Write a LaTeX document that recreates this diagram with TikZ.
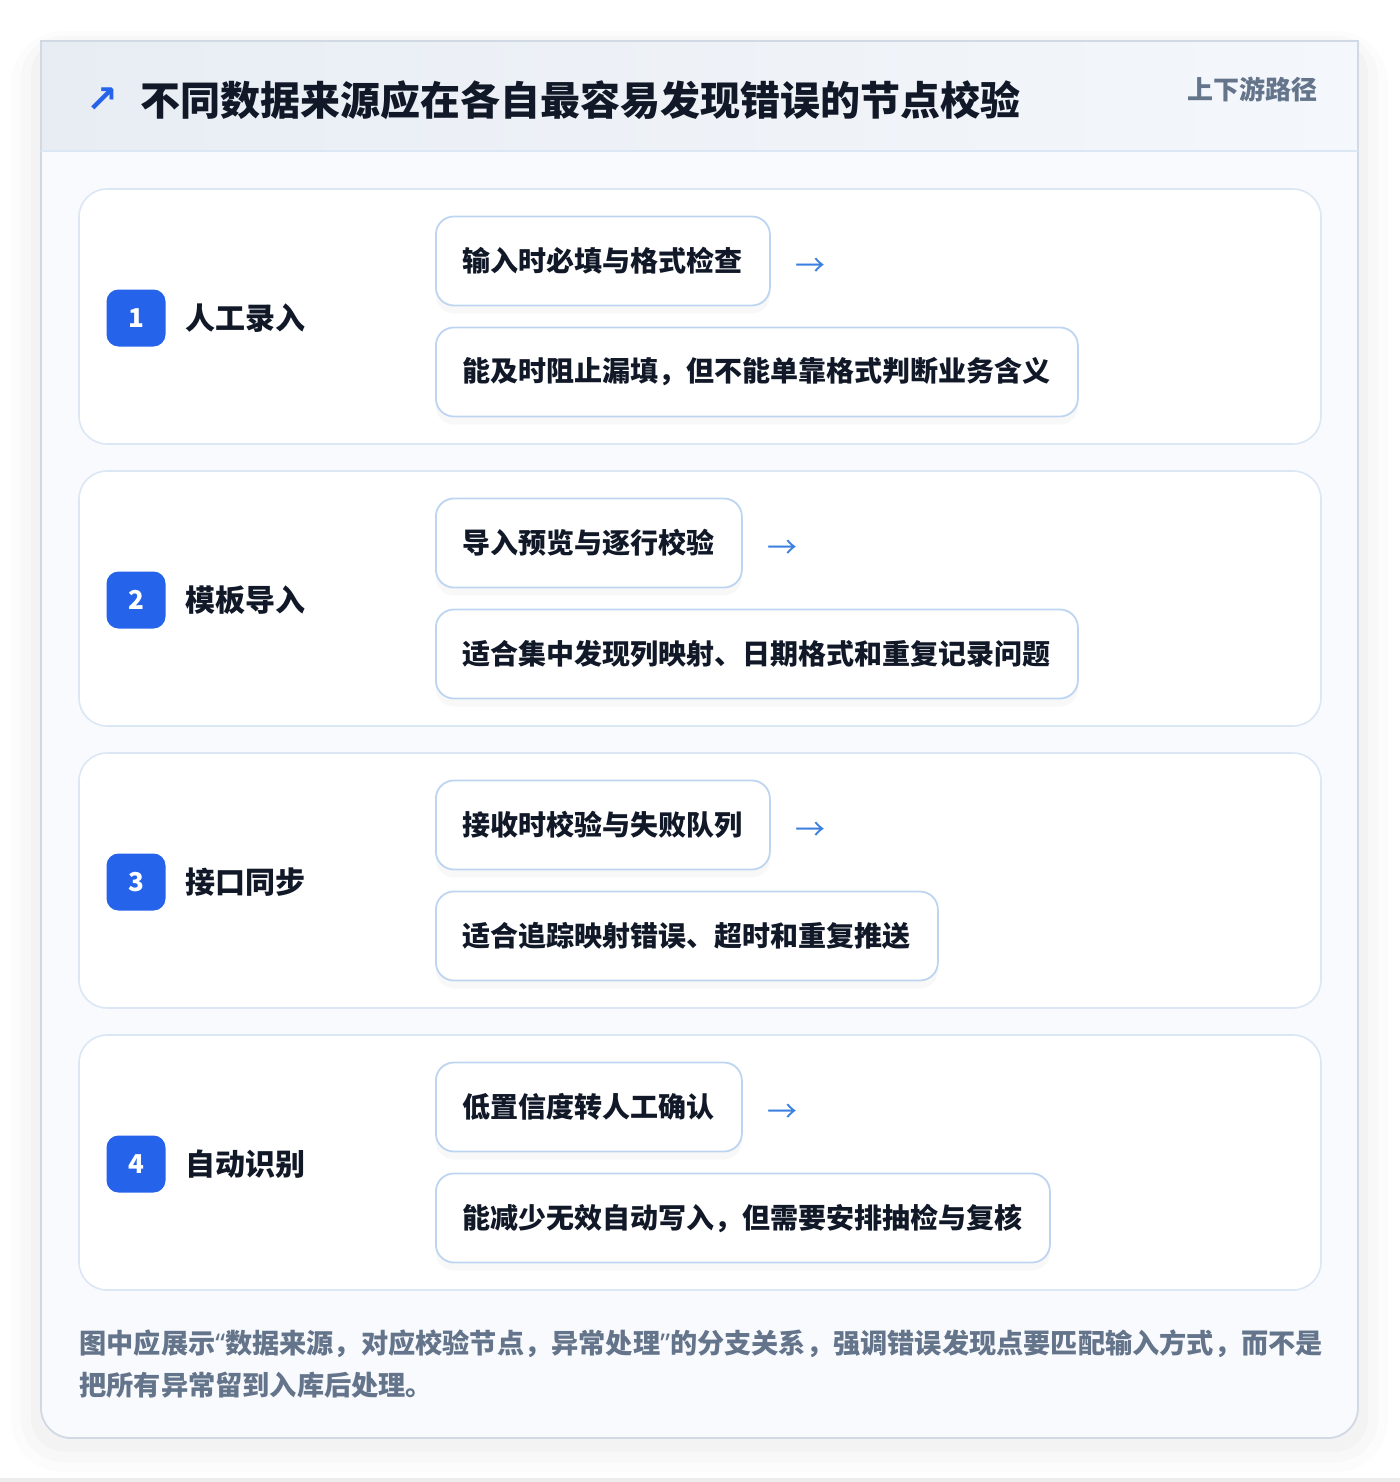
\documentclass[tikz,border=0pt]{standalone}
\usepackage{fontspec}
\setmainfont{Noto Sans CJK SC}
\newfontfamily\symfont{DejaVu Sans}
\newfontfamily\quotefont{Noto Sans}
\usetikzlibrary{positioning,shadows}

\definecolor{inkdark}{HTML}{111827}
\definecolor{inkgray}{HTML}{64748B}
\definecolor{badgeblue}{HTML}{2563EB}
\definecolor{arrowblue}{HTML}{3B7FE0}
\definecolor{cardline}{HTML}{DCE7F5}
\definecolor{boxline}{HTML}{BED5F2}
\definecolor{outerline}{HTML}{D0D9E4}
\definecolor{headleft}{HTML}{E8EDF4}
\definecolor{headright}{HTML}{F4F7FB}
\definecolor{bodyfill}{HTML}{F8FAFD}

\newcommand{\openq}{{\quotefont“}}
\newcommand{\closeq}{{\quotefont”}}

\tikzset{
  srccard/.style={draw=cardline, fill=white, rounded corners=14pt, line width=0.8pt},
  badge/.style={fill=badgeblue, text=white, rounded corners=6pt, inner sep=0pt,
    minimum width=29.5pt, minimum height=28.5pt, font=\bfseries\fontsize{13}{13}\selectfont},
  srclabel/.style={anchor=west, inner sep=0pt, text=inkdark, font=\bfseries\fontsize{15}{15}\selectfont},
  checkbox/.style={anchor=west, draw=boxline, fill=white, rounded corners=9pt, line width=0.9pt,
    minimum height=44.5pt, inner xsep=13.5pt, text=inkdark, font=\bfseries\fontsize{14}{14}\selectfont,
    drop shadow={opacity=0.05, shadow xshift=0pt, shadow yshift=-4pt}},
  flowarrow/.style={inner sep=0pt, text=arrowblue, font=\fontsize{15}{15}\selectfont}
}

\begin{document}
\begin{tikzpicture}[x=0.5pt, y=-0.5pt]
        \useasboundingbox (0,0) rectangle (1400,1482);
        \fill[white] (0,0) rectangle (1400,1482);
        \fill[black!7] (0,1478) rectangle (1400,1482);

        % soft shadow of the outer card
        \fill[black, opacity=0.010, rounded corners=26pt] (11,31) rectangle (1388,1472);
        \fill[black, opacity=0.014, rounded corners=21pt] (21,36) rectangle (1378,1462);
        \fill[black, opacity=0.020, rounded corners=17pt] (31,40) rectangle (1368,1452);

        % outer card and header
        \draw[outerline, fill=bodyfill, line width=0.9pt, rounded corners=15pt] (41,41) rectangle (1358,1438);
        \fill[left color=headleft, right color=headright] (41,41) rectangle (1358,151);
        \draw[outerline, line width=0.9pt] (41,151) -- (41,41) -- (1358,41) -- (1358,151);
        \draw[cardline, line width=0.9pt] (41,151) -- (1358,151);

        \node[text=badgeblue, inner sep=0pt, font=\symfont\bfseries\fontsize{19}{19}\selectfont] (mark) at (102,100) {↗};
        \node[anchor=west, inner sep=0pt, text=inkdark, font=\bfseries\fontsize{20}{20}\selectfont] (title) at (140,100) {不同数据来源应在各自最容易发现错误的节点校验};
        \node[anchor=east, inner sep=0pt, text=inkgray, font=\bfseries\fontsize{13}{13}\selectfont] (path) at (1318,89) {上下游路径};

        % row cards
        \draw[srccard] (79,189) rectangle (1321,444);
        \draw[srccard] (79,471) rectangle (1321,726);
        \draw[srccard] (79,753) rectangle (1321,1008);
        \draw[srccard] (79,1035) rectangle (1321,1290);

        % 1 manual entry
        \node[badge] (b1) at (136,318) {1};
        \node[srclabel] (s1) at (185,318) {人工录入};
        \node[checkbox] (t1) at (435,261) {输入时必填与格式检查};
        \node[flowarrow, right=12pt of t1, yshift=-3pt] (a1) {→};
        \node[checkbox] (n1) at (435,372) {能及时阻止漏填，但不能单靠格式判断业务含义};

        % 2 template import
        \node[badge] (b2) at (136,600) {2};
        \node[srclabel] (s2) at (185,600) {模板导入};
        \node[checkbox] (t2) at (435,543) {导入预览与逐行校验};
        \node[flowarrow, right=12pt of t2, yshift=-3pt] (a2) {→};
        \node[checkbox] (n2) at (435,654) {适合集中发现列映射、日期格式和重复记录问题};

        % 3 interface sync
        \node[badge] (b3) at (136,882) {3};
        \node[srclabel] (s3) at (185,882) {接口同步};
        \node[checkbox] (t3) at (435,825) {接收时校验与失败队列};
        \node[flowarrow, right=12pt of t3, yshift=-3pt] (a3) {→};
        \node[checkbox] (n3) at (435,936) {适合追踪映射错误、超时和重复推送};

        % 4 auto recognition
        \node[badge] (b4) at (136,1164) {4};
        \node[srclabel] (s4) at (185,1164) {自动识别};
        \node[checkbox] (t4) at (435,1107) {低置信度转人工确认};
        \node[flowarrow, right=12pt of t4, yshift=-3pt] (a4) {→};
        \node[checkbox] (n4) at (435,1218) {能减少无效自动写入，但需要安排抽检与复核};

        \node[anchor=west, align=left, inner sep=0pt, text=inkgray,
          font=\bfseries\fontsize{13.6}{21}\selectfont] (note) at (79,1364)
          {图中应展示\openq 数据来源，对应校验节点，异常处理\closeq 的分支关系，强调错误发现点要匹配输入方式，而不是\\把所有异常留到入库后处理。};
      \end{tikzpicture}
\end{document}
